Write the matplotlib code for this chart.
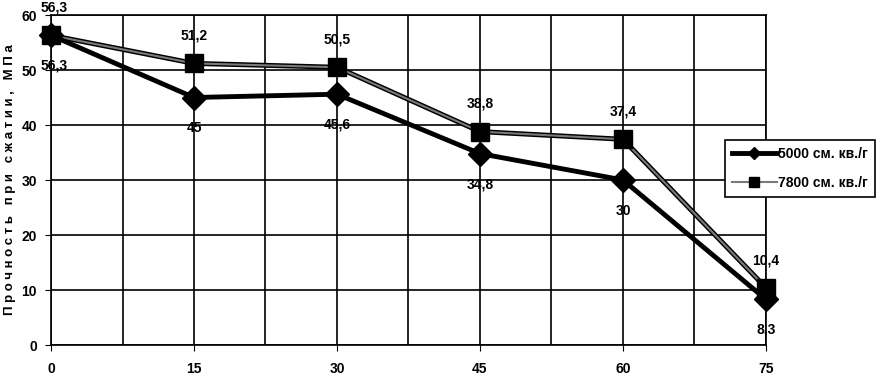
import matplotlib
matplotlib.use('Agg')
import matplotlib.pyplot as plt
import numpy as np

plt.rcParams['font.family'] = ['Liberation Sans', 'DejaVu Sans']
plt.rcParams['font.weight'] = 'bold'

time = [0, 15, 30, 45, 60, 75]
s5000 = [56.3, 45, 45.6, 34.8, 30, 8.3]
s7800 = [56.3, 51.2, 50.5, 38.8, 37.4, 10.4]
lab5000 = ['56,3', '45', '45,6', '34,8', '30', '8,3']
lab7800 = ['56,3', '51,2', '50,5', '38,8', '37,4', '10,4']
names = ['5000 см. кв./г', '7800 см. кв./г']

fig = plt.figure(figsize=(8.78, 3.78), dpi=100)
ax = plt.axes([0.0581, 0.0873, 0.8724 - 0.0581, 0.9603 - 0.0873])

ax.set_xlim(0, 75)
ax.set_ylim(0, 60)
ax.set_xticks(time)
ax.set_xticks(np.arange(7.5, 75, 15), minor=True)
ax.set_yticks(np.arange(0, 61, 10))
ax.grid(True, which='both', color='black', linewidth=1.2)
ax.tick_params(axis='x', which='major', length=4, pad=8, labelsize=10)
ax.tick_params(axis='x', which='minor', length=0)
ax.tick_params(axis='y', length=4, pad=6, labelsize=10)
for sp in ax.spines.values():
    sp.set_linewidth(1.2)

ax.plot(time, s5000, '-', color='black', lw=3.5, marker='D', markersize=12,
        clip_on=False, zorder=4, label=names[0])
# 7800: dark outline with a grey core
ax.plot(time, s7800, '-', color='black', lw=3.6, clip_on=False, zorder=3)
ax.plot(time, s7800, '-', color='#7a7a7a', lw=1.5, marker='s', markersize=13.5,
        markerfacecolor='black', markeredgecolor='black', clip_on=False, zorder=3,
        label=names[1])

for x, y, t in zip(time, s5000, lab5000):
    ax.annotate(t, (x, y), xytext=(2 if x == 0 else 0, -22), textcoords='offset points',
                ha='center', va='center', fontsize=10, fontweight='bold',
                annotation_clip=False, zorder=5)
for x, y, t in zip(time, s7800, lab7800):
    ax.annotate(t, (x, y), xytext=(2 if x == 0 else 0, 20), textcoords='offset points',
                ha='center', va='center', fontsize=10, fontweight='bold',
                annotation_clip=False, zorder=5)

ax.set_ylabel('П р о ч н о с т ь   п р и   с ж а т и и ,   М П а', fontsize=9.5,
              fontweight='bold', labelpad=4)

leg = fig.legend(loc='upper left', bbox_to_anchor=(0.826, 0.63), frameon=True,
                 fancybox=False, edgecolor='black', fontsize=10, handlelength=3.2,
                 borderpad=0.5, labelspacing=1.1, handletextpad=0.1,
                 borderaxespad=0, markerscale=0.55, framealpha=1)
leg.get_frame().set_linewidth(1.2)

plt.savefig('out.png', dpi=100)
